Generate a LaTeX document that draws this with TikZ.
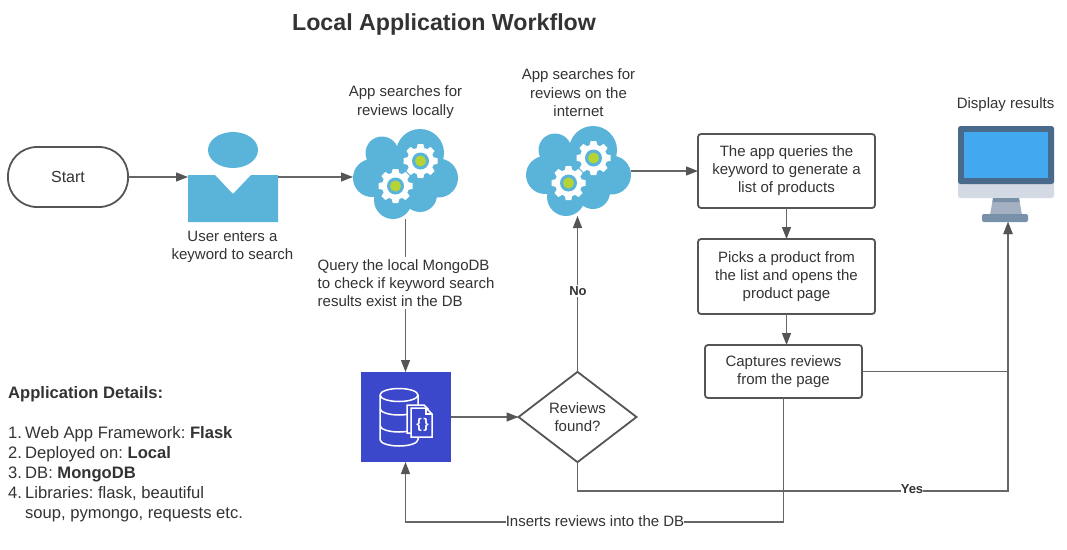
\documentclass[tikz,border=0pt]{standalone}
\usepackage{fontspec}
\setmainfont{Liberation Sans}
\frenchspacing
\usetikzlibrary{positioning,arrows.meta,shapes.geometric}
\definecolor{ink}{HTML}{333333}
\definecolor{wire}{HTML}{666666}
\definecolor{edge}{HTML}{555555}
\definecolor{sky}{HTML}{5AB4DA}
\definecolor{leaf}{HTML}{B5D334}
\definecolor{dbblue}{HTML}{3B48CC}
\definecolor{frameblue}{HTML}{4A6A8C}
\definecolor{screenblue}{HTML}{42A8F0}
\definecolor{chin}{HTML}{D3DAE3}
\definecolor{neck}{HTML}{A4B1C2}
\definecolor{standblue}{HTML}{7890A8}
\tikzset{
  label15/.style={text=ink,font=\fontsize{15}{18.6}\selectfont,align=center,inner sep=1pt},
  flowbox/.style={draw=edge,line width=1.8pt,rounded corners=3pt,minimum width=#1,inner sep=0pt,
    label15,outer sep=0pt,font=\fontsize{15}{18}\selectfont},
  wired/.style={draw=wire,line width=1.3pt},
  flow/.style={wired,-{Triangle[length=12pt,width=9pt,color=edge]}},
  gearicon/.pic={
    \fill[white] (0,0) circle (13.5pt);
    \foreach \a in {0,45,...,315}
      \fill[white,rotate=\a] (-4,-12) -- (-2.8,-17) -- (2.8,-17) -- (4,-12) -- cycle;
    \fill[sky] (0,0) circle (8.5pt);
    \fill[leaf] (0,0) circle (5.5pt);
  },
  cloudicon/.pic={
    \fill[sky] (-23.5,-24) circle (16.5pt) (14.5,-24) circle (24pt) (33,1) circle (19.5pt)
      (-33.5,1) circle (19pt) (-12.5,23) circle (19pt) (14.5,18) circle (17pt) (0,0) circle (29pt);
    \path (15,-16) pic {gearicon} (-10,9) pic {gearicon};
  }
}
\begin{document}
\begin{tikzpicture}[x=1pt,y=-1pt]
  \useasboundingbox (0,0) rectangle (1067,549);
  \node[text=ink,font=\fontsize{23.2}{28}\selectfont\bfseries] (title) at (444,24) {Local Application Workflow};

  \node[flowbox=120pt,minimum height=60pt,rounded corners=29pt,font=\fontsize{16}{18}\selectfont] (start) at (68,177) {\raisebox{1pt}{Start}};
  \node[minimum width=90pt,minimum height=90pt,inner sep=0pt,outer sep=0pt,right=60pt of start] (user) {};
  \node[minimum width=105pt,minimum height=84pt,inner sep=0pt,outer sep=0pt,right=75pt of user] (cloudA) {};
  \node[minimum width=105pt,minimum height=84pt,inner sep=0pt,outer sep=0pt] (cloudB) at (578.5,174) {};
  \node[flowbox=177pt,minimum height=74pt] (query) at (786.5,171) {The app queries the\\keyword to generate a\\list of products};
  \node[flowbox=177pt,minimum height=75pt,below=31pt of query] (pick) {Picks a product from\\the list and opens the\\product page};
  \node[flowbox=157pt,minimum height=53pt] (capture) at (783.5,371.5) {Captures reviews\\from the page};
  \node[fill=dbblue,minimum width=90pt,minimum height=90pt,inner sep=0pt,outer sep=0pt] (db) at (405.5,417) {};
  \node[diamond,draw=edge,line width=1.8pt,minimum width=118pt,minimum height=88pt,inner sep=0pt,
    outer sep=0pt,label15,right=68pt of db] (found) {Reviews\\found?};
  \node[minimum width=96pt,minimum height=96pt,inner sep=0pt,outer sep=0pt] (monitor) at (1006,174) {};
  \coordinate (screenin) at (1008,222);

  % user icon
  \fill[sky] (233,150) ellipse (25pt and 18pt);
  \fill[sky] (188,175) -- (215,175) -- (233,194) -- (251,175) -- (278,175) -- (278,222) -- (188,222) -- cycle;
  \path (cloudA) pic {cloudicon} (cloudB) pic {cloudicon};

  % db icon
  \begin{scope}[shift={(399,395)},draw=white,line width=1.5pt]
    \draw (-19,0) arc (180:-180:19pt and 6.5pt);
    \draw (-19,0) -- (-19,44.5) arc (180:360:19pt and 6.5pt) -- (19,0);
    \draw (-19,13.5) arc (180:360:19pt and 6.5pt);
    \draw (-19,30.5) arc (180:360:19pt and 6.5pt);
    \draw[fill=dbblue] (8,10) -- (25,10) -- (29,14) -- (29,38) -- (8,38) -- cycle;
    \draw[fill=dbblue] (12,13) -- (27,13) -- (33,19) -- (33,42) -- (12,42) -- cycle;
    \draw (27,13) -- (27,19) -- (33,19);
    \node[text=white,inner sep=0pt,font=\fontsize{14}{14}\selectfont\bfseries] (braces) at (23.5,30) {\{\hspace{1.5pt}\}};
  \end{scope}

  % monitor icon
  \fill[chin,rounded corners=2.5pt] (958,170) rectangle (1054,198);
  \fill[frameblue,rounded corners=2.5pt] (958,184) -- (958,126) -- (1054,126) -- (1054,184) -- cycle;
  \fill[screenblue] (964,132) rectangle (1048,178);
  \fill[neck] (993,198) -- (1019,198) -- (1022,215) -- (990,215) -- cycle;
  \fill[standblue] (993,198) -- (1019,198) -- (1019.5,202) -- (992.5,202) -- cycle;
  \fill[standblue,rounded corners=2pt] (982,214) rectangle (1028,222);

  % connectors
  \draw[flow] (start) -- (user);
  \draw[flow] (user) -- (cloudA);
  \draw[flow] (cloudA) -- (db);
  \draw[flow] (db) -- (found);
  \draw[flow] (found) -- (cloudB.south -| found.north);
  \draw[flow] (cloudB.east |- query.west) -- (query);
  \draw[flow] (query) -- (pick);
  \draw[flow] (pick) -- (pick.south |- capture.north);
  \draw[flow] (capture.east) -| (screenin);
  \draw[flow] (found.south) |- (1008,491) -- (screenin);
  \draw[flow] (capture.south) |- (405.5,522) -- (db.south);

  % labels
  \node[label15] (searchA) at (405.5,102) {App searches for\\reviews locally};
  \node[label15] (searchB) at (578.5,93) {App searches for\\reviews on the\\internet};
  \node[label15] (keyword) at (232.5,247) {User enters a\\keyword to search};
  \node[label15] (display) at (1005.5,105) {Display results};
  \node[label15,fill=white,align=left,inner sep=2pt,anchor=west,font=\fontsize{15}{18}\selectfont] (check) at (315.5,283) {Query the local MongoDB\\to check if keyword search\\results exist in the DB};
  \node[label15,fill=white,font=\fontsize{13}{15}\selectfont\bfseries] (no) at (578,291) {No};
  \node[label15,fill=white,font=\fontsize{13}{15}\selectfont\bfseries,inner sep=0pt] (yes) at (912,489) {Yes};
  \node[label15,fill=white,inner sep=0pt] (insert) at (595,521) {Inserts reviews into the DB};
  \node[text=ink,anchor=north west,align=left,inner sep=0pt,font=\fontsize{16.6}{20}\selectfont] (details) at (8,386)
    {\textbf{Application Details:}\\[20pt]
     \makebox[17pt][l]{1.}Web App Framework: \textbf{Flask}\\
     \makebox[17pt][l]{2.}Deployed on: \textbf{Local}\\
     \makebox[17pt][l]{3.}DB: \textbf{MongoDB}\\
     \makebox[17pt][l]{4.}Libraries: flask, beautiful\\
     \makebox[17pt][l]{}soup, pymongo, requests etc.};
\end{tikzpicture}
\end{document}
